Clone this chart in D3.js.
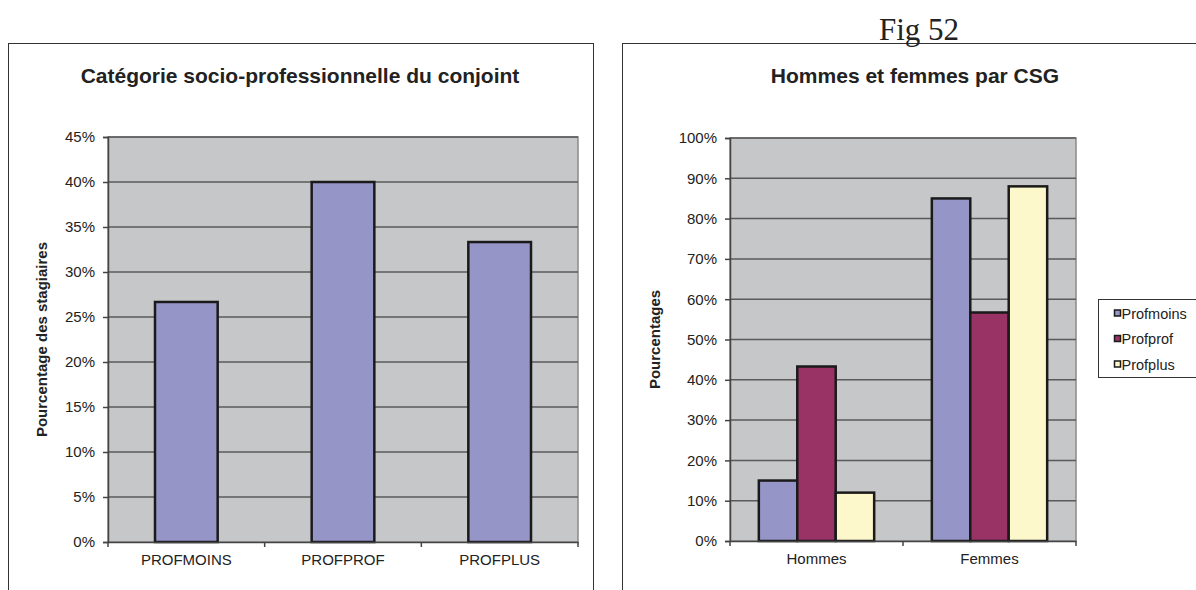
<!DOCTYPE html>
<html>
<head>
<meta charset="utf-8">
<script src="https://cdn.jsdelivr.net/npm/d3@7"></script>
<style>
  body { margin: 0; background: #fff; }
  svg { display: block; font-family: "Liberation Sans", Arial, sans-serif; }
</style>
</head>
<body>
<svg id="chart" width="1196" height="590"></svg>
<script>
// valeurs
var categories1 = ["PROFMOINS", "PROFPROF", "PROFPLUS"];
var values1 = [0.2667, 0.40, 0.3333];
var yTicks1 = [0, 0.05, 0.10, 0.15, 0.20, 0.25, 0.30, 0.35, 0.40, 0.45];

var groups2 = ["Hommes", "Femmes"];
var series2 = ["Profmoins", "Profprof", "Profplus"];
var profmoins = [0.15, 0.85];
var profprof = [0.433, 0.567];
var profplus = [0.12, 0.88];
var yTicks2 = [0, 0.1, 0.2, 0.3, 0.4, 0.5, 0.6, 0.7, 0.8, 0.9, 1.0];

var colors = ["#9595c8", "#993366", "#fcf8cc"];
var plotBg = "#c6c7c9";
var gridColor = "#5a5a5a";

var svg = d3.select("#chart");
var pct = d3.format(".0%");

// cadres des deux graphiques
svg.append("rect").attr("x", 8.5).attr("y", 43.5).attr("width", 585).attr("height", 600)
   .attr("fill", "none").attr("stroke", "#333").attr("stroke-width", 1);
svg.append("rect").attr("x", 622.5).attr("y", 43.5).attr("width", 585).attr("height", 600)
   .attr("fill", "none").attr("stroke", "#333").attr("stroke-width", 1);

svg.append("text").attr("x", 919).attr("y", 40).attr("text-anchor", "middle")
   .style("font-family", "'Liberation Serif', 'Times New Roman', serif")
   .attr("font-size", 31).attr("fill", "#222").text("Fig 52");

function drawPlot(opt) {
  var g = svg.append("g");
  var x = d3.scaleBand().domain(opt.cats).range([opt.x0, opt.x1]);
  var y = d3.scaleLinear().domain([0, opt.max]).range([opt.y1, opt.y0]);

  g.append("rect").attr("x", opt.x0).attr("y", opt.y0)
   .attr("width", opt.x1 - opt.x0).attr("height", opt.y1 - opt.y0)
   .attr("fill", plotBg).attr("stroke", "#8a8a8a").attr("stroke-width", 1.5);

  g.selectAll(".grid").data(opt.ticks.slice(1)).enter().append("line")
   .attr("x1", opt.x0).attr("x2", opt.x1)
   .attr("y1", d => y(d)).attr("y2", d => y(d))
   .attr("stroke", gridColor).attr("stroke-width", 1.5);

  opt.bars(g, x, y);

  // axe vertical
  var ya = g.append("g").attr("transform", "translate(" + opt.x0 + ",0)")
    .call(d3.axisLeft(y).tickValues(opt.ticks).tickFormat(pct).tickSize(5).tickPadding(8));
  ya.select(".domain").attr("stroke", "#444").attr("stroke-width", 1.5);
  ya.selectAll(".tick line").attr("stroke", "#444").attr("stroke-width", 1.5);
  ya.selectAll("text").attr("font-size", 15).attr("fill", "#222")
    .style("font-family", "'Liberation Sans', Arial, sans-serif");

  // axe horizontal
  var xa = g.append("g").attr("transform", "translate(0," + opt.y1 + ")")
    .call(d3.axisBottom(x).tickSize(0).tickPadding(12));
  xa.select(".domain").attr("stroke", "#444").attr("stroke-width", 1.5);
  xa.selectAll("text").attr("font-size", 15).attr("fill", "#222").attr("y", 23).attr("dy", 0)
    .style("font-family", "'Liberation Sans', Arial, sans-serif");
  var bounds = opt.cats.map(c => x(c)).concat([opt.x1]);
  g.selectAll(".xt").data(bounds).enter().append("line")
   .attr("x1", d => d).attr("x2", d => d)
   .attr("y1", opt.y1).attr("y2", opt.y1 + 5)
   .attr("stroke", "#444").attr("stroke-width", 1.5);

  svg.append("text").attr("x", opt.titleX).attr("y", 83).attr("text-anchor", "middle")
    .attr("font-weight", "bold").attr("font-size", 21).attr("fill", "#222").text(opt.title);

  svg.append("text")
    .attr("transform", "translate(" + opt.labelX + "," + ((opt.y0 + opt.y1) / 2) + ") rotate(-90)")
    .attr("text-anchor", "middle").attr("font-weight", "bold").attr("font-size", 15)
    .attr("fill", "#222").text(opt.label);
}

drawPlot({
  cats: categories1, max: 0.45, ticks: yTicks1,
  x0: 108, x1: 578, y0: 137, y1: 542,
  title: "Catégorie socio-professionnelle du conjoint", titleX: 300,
  label: "Pourcentage des stagiaires", labelX: 47,
  bars: function (g, x, y) {
    var w = x.bandwidth() / 2.5;
    g.selectAll(".bar").data(values1).enter().append("rect")
     .attr("x", (d, i) => x(categories1[i]) + (x.bandwidth() - w) / 2)
     .attr("y", d => y(d)).attr("width", w).attr("height", d => y(0) - y(d))
     .attr("fill", colors[0]).attr("stroke", "#1a1a1a").attr("stroke-width", 2.5);
  }
});

var values2 = [profmoins, profprof, profplus];
drawPlot({
  cats: groups2, max: 1, ticks: yTicks2,
  x0: 730, x1: 1076, y0: 138, y1: 541,
  title: "Hommes et femmes par CSG", titleX: 915,
  label: "Pourcentages", labelX: 660,
  bars: function (g, x, y) {
    var w = x.bandwidth() / 4.5;
    var xs = d3.scaleBand().domain(series2).range([0, 3 * w]);
    series2.forEach(function (s, si) {
      g.selectAll(".b" + si).data(values2[si]).enter().append("rect")
       .attr("x", (d, i) => x(groups2[i]) + 0.75 * w + xs(s))
       .attr("y", d => y(d)).attr("width", w).attr("height", d => y(0) - y(d))
       .attr("fill", colors[si]).attr("stroke", "#1a1a1a").attr("stroke-width", 2.5);
    });
  }
});

// légende
var leg = svg.append("g").attr("transform", "translate(1098.5,299.5)");
leg.append("rect").attr("width", 98).attr("height", 78)
   .attr("fill", "#fff").attr("stroke", "#333").attr("stroke-width", 1);
series2.forEach(function (s, i) {
  var row = leg.append("g").attr("transform", "translate(0," + (14 + i * 25.5) + ")");
  row.append("rect").attr("x", 16).attr("y", -3.5).attr("width", 6).attr("height", 6)
     .attr("fill", colors[i]).attr("stroke", "#1a1a1a").attr("stroke-width", 1.5);
  row.append("text").attr("x", 23).attr("y", 5).attr("font-size", 14.5)
     .attr("fill", "#222").text(s);
});
</script>
</body>
</html>
